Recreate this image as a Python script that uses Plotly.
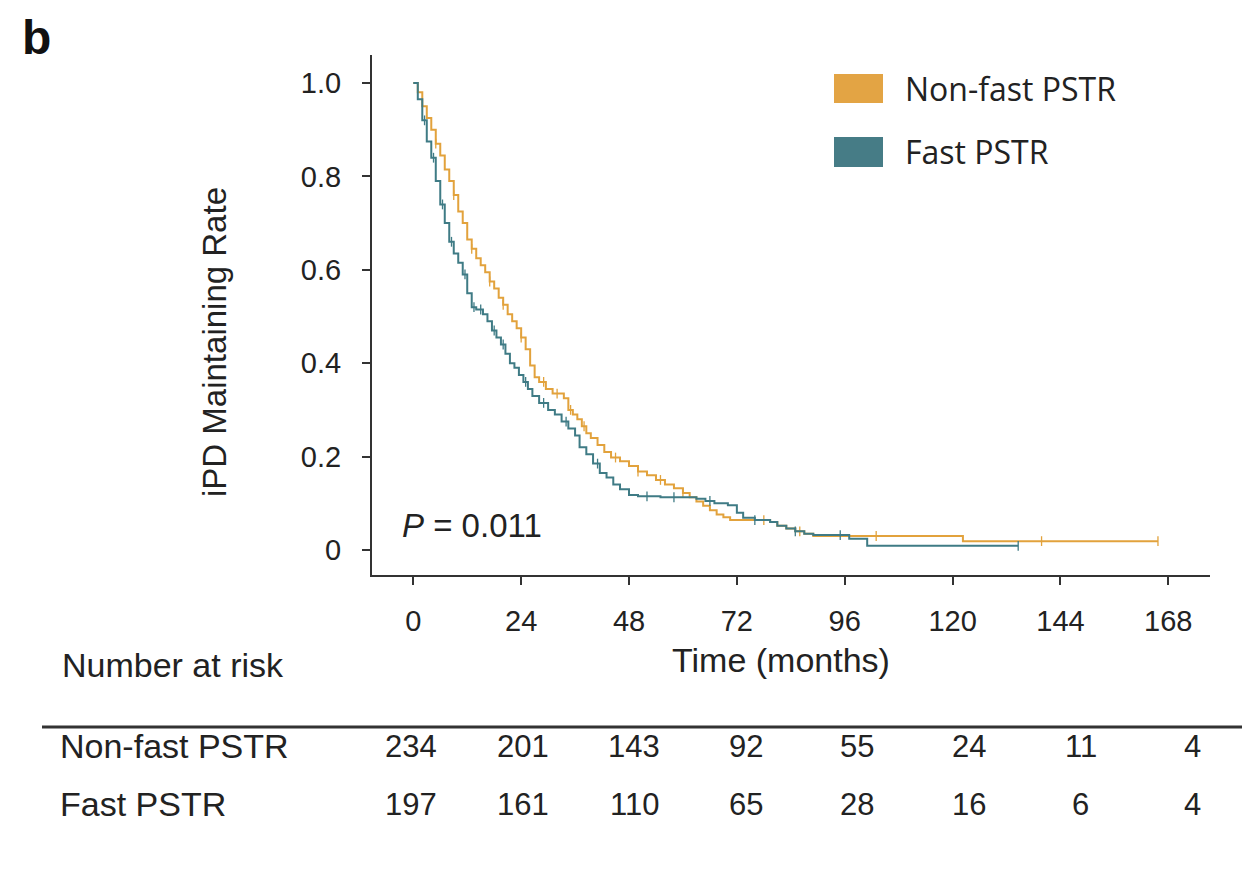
import plotly.graph_objects as go

# ---------------- data ----------------
groups = ["Non-fast PSTR", "Fast PSTR"]

nonfast_time = [0, 1, 2, 3, 4, 5, 6, 7, 8, 9, 10, 11, 12, 13, 14, 15, 16, 17, 18, 19, 20,
                21, 22, 23, 24, 25, 26, 27, 28, 29.5, 31, 33.5, 34.5, 35.5, 36.5, 37.5, 38.5,
                39.5, 41, 42.5, 44, 46, 48, 50, 52, 54, 56, 58, 60, 61.5, 63, 64.5, 66, 67.5,
                69, 70.5, 79.4, 81, 83, 85, 87, 89, 122.3, 165.7]
nonfast_surv = [1.0, 0.98, 0.95, 0.925, 0.90, 0.87, 0.845, 0.815, 0.79, 0.76, 0.725, 0.70,
                0.665, 0.645, 0.625, 0.61, 0.595, 0.575, 0.56, 0.54, 0.525, 0.505, 0.49, 0.475,
                0.455, 0.43, 0.395, 0.37, 0.36, 0.345, 0.335, 0.325, 0.30, 0.29, 0.28, 0.265,
                0.25, 0.24, 0.225, 0.21, 0.198, 0.19, 0.18, 0.168, 0.16, 0.15, 0.14, 0.132,
                0.122, 0.113, 0.104, 0.095, 0.085, 0.076, 0.07, 0.064, 0.06, 0.052, 0.046,
                0.04, 0.035, 0.030, 0.019, 0.019]
nonfast_censor = [5, 9, 13, 17, 20, 24, 29, 32, 35, 38, 45, 50, 55, 60, 78, 86, 103, 139.8, 165.7]

fast_time = [0, 1, 2, 3, 4, 5, 6, 7, 8, 9, 10, 11, 12, 13, 14, 15.5, 16.5, 17.5, 18.5, 19.5,
             20.5, 21.5, 22.5, 23.5, 24.5, 25.5, 26.5, 28, 30, 31.5, 33, 34.5, 36, 37, 38.5,
             40, 41.5, 43, 44.5, 46, 48, 50, 55, 63, 65, 67, 70, 72, 73.4, 76, 79.4, 81, 83,
             85, 87, 89, 97, 101, 134.6]
fast_surv = [1.0, 0.965, 0.92, 0.875, 0.84, 0.79, 0.74, 0.70, 0.66, 0.635, 0.615, 0.59, 0.55,
             0.52, 0.515, 0.505, 0.49, 0.47, 0.455, 0.44, 0.42, 0.40, 0.39, 0.375, 0.36, 0.345,
             0.33, 0.315, 0.30, 0.29, 0.275, 0.26, 0.245, 0.22, 0.205, 0.185, 0.165, 0.155,
             0.14, 0.13, 0.118, 0.115, 0.113, 0.11, 0.105, 0.10, 0.096, 0.08, 0.069, 0.064,
             0.06, 0.052, 0.046, 0.04, 0.035, 0.032, 0.024, 0.009, 0.009]
fast_censor = [2.5, 4.5, 6.5, 8.5, 11.5, 13.5, 15, 18, 20, 25, 29, 34, 41, 52, 58, 66, 76, 85, 95, 134.6]

x_ticks = [0, 24, 48, 72, 96, 120, 144, 168]
y_ticks = [0, 0.2, 0.4, 0.6, 0.8, 1.0]
y_ticktext = ["0", "0.2", "0.4", "0.6", "0.8", "1.0"]

risk_nonfast = [234, 201, 143, 92, 55, 24, 11, 4]
risk_fast = [197, 161, 110, 65, 28, 16, 6, 4]

p_text = "<i>P</i> = 0.011"

# ---------------- style / layout ----------------
ORANGE = "#E2A23C"
TEAL = "#3F7B85"
DARK = "#333333"
FONT = "Arial, Liberation Sans, sans-serif"
OFF = 8                      # page body margin of the html page
W, H = 1250 - OFF, 874 - OFF
ML, MR, MT, MB = 372 - OFF, 40, 55 - OFF, 299
PW, PH = W - ML - MR, H - MT - MB


def X(px):  # page pixel -> paper x
    return (px - OFF - ML) / PW


def Y(py):  # page pixel -> paper y
    return (H + OFF - MB - py) / PH


def step_at(times, surv, t):
    v = surv[0]
    for ti, si in zip(times, surv):
        if ti <= t:
            v = si
    return v


fig = go.Figure()

for name, t, s, c, col in [
    (groups[0], nonfast_time, nonfast_surv, nonfast_censor, ORANGE),
    (groups[1], fast_time, fast_surv, fast_censor, TEAL),
]:
    fig.add_trace(go.Scatter(x=t, y=s, mode="lines", line=dict(color=col, width=2, shape="hv"),
                             name=name, showlegend=False, hoverinfo="skip"))
    fig.add_trace(go.Scatter(x=c, y=[step_at(t, s, ci) for ci in c], mode="markers",
                             marker=dict(symbol="line-ns", size=7,
                                         line=dict(color=col, width=1.3)),
                             showlegend=False, hoverinfo="skip"))

# axis ranges derived from the reference's pixel layout
px_per_month = 4.494
x_zero_px = 413.3
x0 = (ML + OFF - x_zero_px) / px_per_month
x1 = (W + OFF - MR - x_zero_px) / px_per_month
px_per_unit = 467.0
y_zero_px = 550
y1 = (y_zero_px - (MT + OFF)) / px_per_unit
y0 = (y_zero_px - (H + OFF - MB)) / px_per_unit

fig.update_xaxes(range=[x0, x1], tickvals=x_ticks, ticks="outside", ticklen=8, tickwidth=2,
                 tickcolor=DARK, showline=True, linewidth=2, linecolor=DARK, showgrid=False,
                 zeroline=False, tickfont=dict(family=FONT, size=29, color="#222"),
                 ticklabelstandoff=11)
fig.update_yaxes(range=[y0, y1], tickvals=y_ticks, ticktext=y_ticktext, ticks="outside",
                 ticklen=8, tickwidth=2, tickcolor=DARK, showline=True, linewidth=2,
                 linecolor=DARK, showgrid=False, zeroline=False,
                 tickfont=dict(family=FONT, size=29, color="#222"), ticklabelstandoff=15)

ann = []
ann.append(dict(x=X(20), y=Y(9), xref="paper", yref="paper", text="<b>b</b>", showarrow=False,
                xanchor="left", yanchor="top", font=dict(family=FONT, size=48, color="#111")))
ann.append(dict(x=X(214), y=Y(342), xref="paper", yref="paper", text="iPD Maintaining Rate",
                textangle=-90, showarrow=False, xanchor="center", yanchor="middle",
                font=dict(family=FONT, size=33, color="#222")))
ann.append(dict(x=X(781), y=Y(660), xref="paper", yref="paper", text="Time (months)",
                showarrow=False, xanchor="center", yanchor="middle",
                font=dict(family=FONT, size=34, color="#222")))
ann.append(dict(x=X(400), y=Y(525), xref="paper", yref="paper", text=p_text, showarrow=False,
                xanchor="left", yanchor="middle", font=dict(family=FONT, size=33, color="#222")))
for name, yc in [(groups[0], 88), (groups[1], 151)]:
    ann.append(dict(x=X(903), y=Y(yc), xref="paper", yref="paper", text=name, showarrow=False,
                    xanchor="left", yanchor="middle",
                    font=dict(family="Open Sans, sans-serif", size=32, color="#222")))
ann.append(dict(x=X(60), y=Y(665), xref="paper", yref="paper", text="Number at risk",
                showarrow=False, xanchor="left", yanchor="middle",
                font=dict(family=FONT, size=34, color="#222")))
col_px0, col_step = 411, 111.6   # column centres of the risk table in the reference
for name, vals, yc in [(groups[0], risk_nonfast, 746), (groups[1], risk_fast, 804)]:
    ann.append(dict(x=X(58), y=Y(yc), xref="paper", yref="paper", text=name, showarrow=False,
                    xanchor="left", yanchor="middle",
                    font=dict(family=FONT, size=34, color="#222")))
    for i, v in enumerate(vals):
        ann.append(dict(x=X(col_px0 + i * col_step), y=Y(yc), xref="paper", yref="paper",
                        text=str(v), showarrow=False, xanchor="center", yanchor="middle",
                        font=dict(family=FONT, size=31, color="#222")))

shapes = [
    dict(type="rect", xref="paper", yref="paper", x0=X(834), x1=X(883), y0=Y(103), y1=Y(74),
         fillcolor="#E3A444", line=dict(width=0)),
    dict(type="rect", xref="paper", yref="paper", x0=X(834), x1=X(883), y0=Y(167), y1=Y(137),
         fillcolor="#467C86", line=dict(width=0)),
    dict(type="line", xref="paper", yref="paper", x0=X(42), x1=X(1250), y0=Y(727), y1=Y(727),
         line=dict(color=DARK, width=3)),
]

fig.update_layout(width=W, height=H, margin=dict(l=ML, r=MR, t=MT, b=MB),
                  plot_bgcolor="white", paper_bgcolor="white", showlegend=False,
                  annotations=ann, shapes=shapes)

fig.write_html("out.html")
